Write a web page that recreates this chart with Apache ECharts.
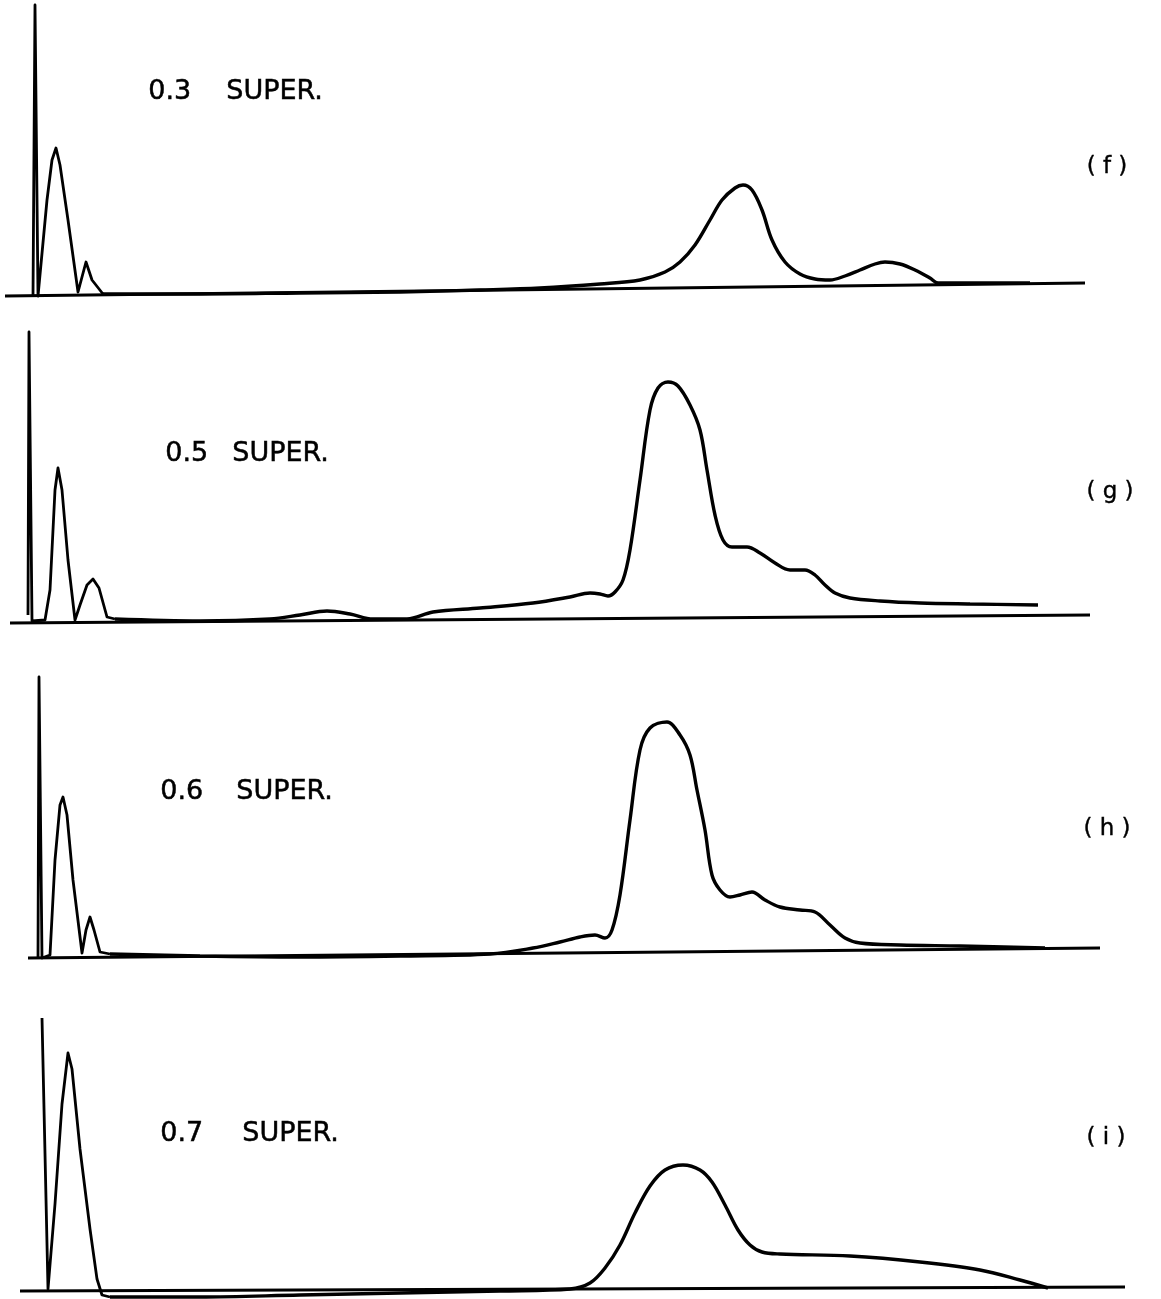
<!DOCTYPE html>
<html>
<head>
<meta charset="utf-8">
<script src="https://cdn.jsdelivr.net/npm/echarts@6/dist/echarts.min.js"></script>
<style>
html,body{margin:0;padding:0;background:#fff;}
#chart{width:1161px;height:1299px;}
</style>
</head>
<body>
<div id="chart"></div>
<script>
// Panel labels
const panelNames = ['0.3', '0.5', '0.6', '0.7'];
const panelTags = ['( f )', '( g )', '( h )', '( i )'];

// Panel f (0.3 super.) — [position, signal]
const fBase = [[5, 4], [1085, 17]];
const fEarly = [[33, 4], [35, 295], [38, 4], [40, 6], [47, 100], [52, 140], [56, 152], [60, 135], [68, 80], [78, 8], [86, 38], [92, 20], [103, 6]];
const fMain = [[103, 6], [200, 6], [300, 7], [400, 8], [480, 10], [540, 12], [600, 16], [640, 20], [665, 28], [680, 38], [695, 55], [710, 80], [722, 100], [735, 112], [743, 115], [752, 110], [762, 90], [772, 60], [785, 38], [800, 26], [815, 21], [830, 20], [845, 24], [860, 30], [875, 36], [885, 38], [900, 36], [915, 30], [930, 22], [938, 17], [1030, 17]];

// Panel g (0.5 super.)
const gBase = [[10, 2], [1090, 10]];
const gEarly = [[28, 10], [29, 293], [32, 4], [33, 4], [45, 5], [50, 35], [55, 135], [58, 157], [62, 135], [68, 65], [75, 5], [80, 20], [87, 40], [93, 46], [99, 37], [107, 8], [115, 6]];
const gMain = [[115, 6], [200, 4], [270, 6], [300, 10], [327, 14], [350, 11], [373, 6], [407, 6], [433, 13], [480, 17], [533, 22], [570, 28], [590, 32], [600, 31], [608, 29], [615, 33], [623, 45], [630, 75], [640, 145], [650, 215], [658, 237], [668, 243], [678, 239], [690, 220], [700, 195], [707, 155], [715, 110], [723, 85], [732, 78], [747, 78], [760, 72], [775, 62], [790, 55], [805, 55], [815, 50], [825, 40], [835, 32], [850, 27], [880, 24], [920, 22], [970, 21], [1038, 20]];

// Panel h (0.6 super.)
const hBase = [[28, 2], [1100, 12]];
const hEarly = [[38, 2], [39, 283], [42, 2], [50, 5], [55, 100], [60, 155], [63, 163], [67, 145], [73, 80], [82, 7], [86, 30], [90, 43], [94, 30], [100, 8], [110, 6]];
const hMain = [[110, 6], [200, 4], [300, 3], [400, 4], [490, 6], [533, 12], [560, 18], [580, 23], [595, 25], [605, 22], [612, 30], [620, 65], [630, 140], [640, 210], [650, 232], [667, 238], [680, 225], [690, 205], [697, 170], [705, 130], [712, 85], [720, 70], [730, 63], [740, 65], [752, 68], [765, 60], [780, 53], [800, 50], [815, 48], [830, 35], [845, 22], [860, 17], [900, 15], [960, 14], [1045, 12]];

// Panel i (0.7 super.)
const iBase = [[20, 8], [1125, 12]];
const iEarly = [[42, 281], [48, 10], [50, 10], [55, 95], [62, 195], [68, 246], [72, 230], [80, 150], [90, 70], [97, 20], [102, 4], [110, 2]];
const iMain = [[110, 2], [200, 2], [300, 4], [400, 6], [500, 8], [570, 10], [590, 16], [605, 31], [620, 54], [635, 86], [650, 113], [665, 129], [683, 134], [700, 129], [712, 117], [725, 94], [738, 69], [750, 54], [762, 47], [780, 45], [850, 43], [920, 37], [980, 29], [1020, 19], [1048, 11]];

const panels = [
  {base: fBase, early: fEarly, main: fMain},
  {base: gBase, early: gEarly, main: gMain},
  {base: hBase, early: hEarly, main: hMain},
  {base: iBase, early: iEarly, main: iMain}
];

const gridTops = [0, 325, 660, 999];
const nameLeft = [148, 165, 160, 160];
const superLeft = [226, 232, 236, 242];
const nameY = [93, 455, 793, 1135];
const tagX = [1107, 1110, 1107, 1106];
const tagY = [167, 492, 829, 1138];

const grids = [], xAxes = [], yAxes = [], series = [], graphics = [];
panels.forEach((p, k) => {
  grids.push({left: 0, right: 0, top: gridTops[k], height: 300});
  xAxes.push({type: 'value', gridIndex: k, min: 0, max: 1161, show: false});
  yAxes.push({type: 'value', gridIndex: k, min: 0, max: 300, show: false});
  const common = {type: 'line', xAxisIndex: k, yAxisIndex: k, symbol: 'none', silent: true, clip: false};
  series.push(Object.assign({}, common, {data: p.base, lineStyle: {color: '#000', width: 3}}));
  series.push(Object.assign({}, common, {data: p.early, lineStyle: {color: '#000', width: 2.8, join: 'round'}}));
  series.push(Object.assign({}, common, {data: p.main, smooth: 0.35, lineStyle: {color: '#000', width: 3.4}}));
  const txt = {font: '27px "DejaVu Sans"', fill: '#000', stroke: '#000', lineWidth: 0.5};
  graphics.push({type: 'text', left: nameLeft[k], top: nameY[k] - 15, style: Object.assign({text: panelNames[k]}, txt)});
  graphics.push({type: 'text', left: superLeft[k], top: nameY[k] - 15, style: Object.assign({text: 'SUPER.'}, txt)});
  graphics.push({type: 'text', x: tagX[k], y: tagY[k], style: {text: panelTags[k], font: '23px "DejaVu Sans"', fill: '#000', stroke: '#000', lineWidth: 0.4, align: 'center', verticalAlign: 'middle'}});
});

const chart = echarts.init(document.getElementById('chart'), null, {renderer: 'canvas'});
chart.setOption({
  animation: false,
  backgroundColor: '#fff',
  grid: grids,
  xAxis: xAxes,
  yAxis: yAxes,
  series: series,
  graphic: graphics
});
</script>
</body>
</html>
